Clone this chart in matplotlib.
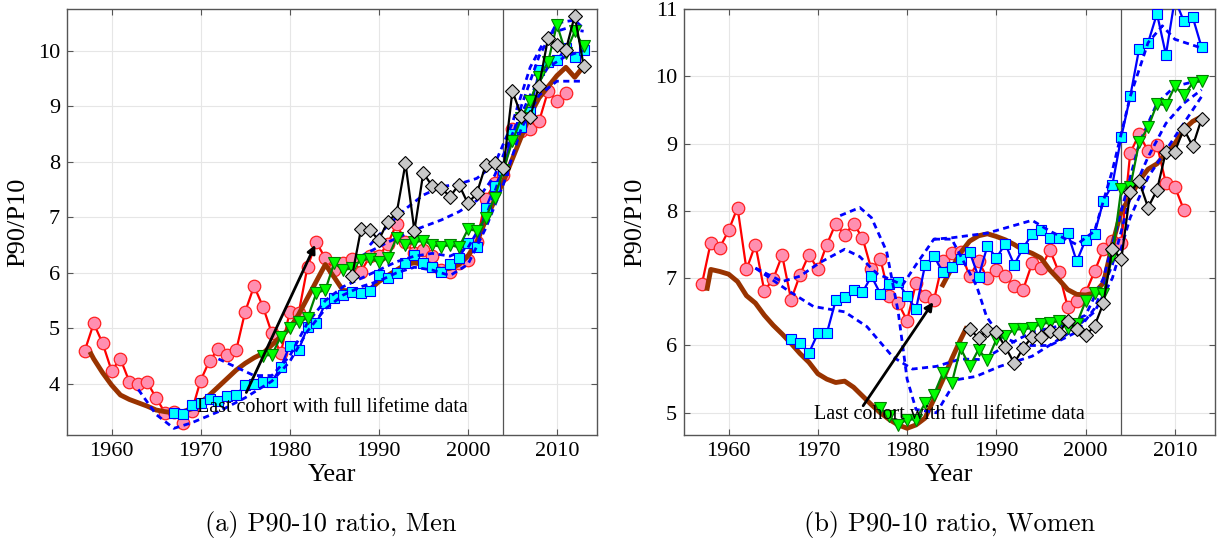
import numpy as np
import matplotlib.pyplot as plt

# ---------------- men ----------------
men_red_years = list(range(1957, 2012))
men_red = [4.60, 5.09, 4.73, 4.24, 4.45, 4.04, 4.00, 4.03, 3.75, 3.48,
           3.49, 3.30, 3.51, 4.06, 4.42, 4.63, 4.52, 4.61, 5.30, 5.76,
           5.39, 4.91, 4.55, 5.30, 5.27, 6.11, 6.55, 6.26, 6.05, 6.17,
           6.25, 6.02, 6.30, 6.30, 6.52, 6.88, 6.55, 6.36, 6.41, 6.30,
           6.05, 6.02, 6.18, 6.23, 6.55, 7.33, 7.61, 7.76, 8.59, 8.55,
           8.59, 8.73, 9.27, 9.10, 9.23]

men_brown_years = [1957.7] + list(range(1958, 2014))
men_brown = [4.54, 4.45, 4.20, 3.98, 3.80, 3.72, 3.66, 3.60, 3.53, 3.50,
             3.48, 3.50, 3.55, 3.66, 3.80, 3.95, 4.10, 4.25, 4.37, 4.47,
             4.55, 4.70, 4.85, 5.00, 5.25, 5.55, 5.85, 6.15, 5.92, 5.68,
             5.68, 5.68, 5.70, 5.84, 5.95, 6.05, 6.15, 6.18, 6.15, 6.10,
             6.06, 6.08, 6.15, 6.30, 6.55, 6.95, 7.30, 7.65, 8.05, 8.45,
             8.85, 9.15, 9.35, 9.55, 9.70, 9.52, 9.72]

men_blue_years = list(range(1967, 2014))
men_blue = [3.48, 3.45, 3.62, 3.65, 3.72, 3.70, 3.79, 3.80, 3.98, 4.00,
            4.03, 4.04, 4.30, 4.69, 4.61, 5.02, 5.09, 5.45, 5.54, 5.60,
            5.65, 5.63, 5.68, 5.96, 5.90, 6.00, 6.18, 6.32, 6.18, 6.11,
            6.02, 6.15, 6.27, 6.53, 6.46, 7.16, 7.56, 7.85, 8.50, 8.62,
            8.90, 9.65, 9.80, 9.83, 10.05, 9.88, 10.02]

men_green_years = list(range(1977, 2014))
men_green = [4.51, 4.52, 4.85, 5.00, 5.12, 5.18, 5.64, 5.69, 6.18, 6.05,
             6.08, 6.23, 6.25, 6.20, 6.26, 6.63, 6.50, 6.55, 6.58, 6.50,
             6.47, 6.50, 6.46, 6.78, 6.76, 6.99, 7.35, 7.85, 8.37, 8.78,
             9.10, 9.52, 9.79, 10.47, 9.96, 10.35, 10.08]

men_black_years = list(range(1987, 2014))
men_black = [5.94, 6.78, 6.77, 6.59, 6.92, 7.07, 7.97, 6.76, 7.80, 7.56,
             7.53, 7.37, 7.59, 7.25, 7.43, 7.94, 7.97, 7.88, 9.27, 8.83,
             8.81, 9.37, 10.22, 10.10, 10.01, 10.63, 9.73]

men_dashed = [
    ([1963, 1965, 1967, 1969, 1972, 1975, 1978, 1980, 1982, 1984, 1986,
      1988, 1990, 1992, 1994, 1996, 1998, 2000, 2002, 2004, 2006, 2008,
      2010, 2013],
     [3.9, 3.45, 3.2, 3.3, 3.5, 3.75, 4.05, 4.4, 4.95, 5.35, 5.6, 5.75,
      5.85, 6.0, 6.1, 6.05, 5.95, 6.15, 6.8, 7.6, 8.6, 9.2, 9.45, 9.45]),
    ([1972, 1974, 1976, 1978, 1980, 1982, 1984, 1986, 1988, 1990, 1992,
      1994, 1996, 1998, 2000, 2002, 2004, 2006, 2008, 2010, 2012, 2013],
     [4.45, 4.3, 4.15, 4.15, 4.5, 5.1, 5.5, 5.75, 5.9, 6.05, 6.2, 6.3,
      6.35, 6.3, 6.45, 7.0, 7.9, 9.0, 9.9, 10.5, 10.55, 10.4]),
    ([1989, 1991, 1993, 1995, 1997, 1999, 2001, 2003, 2005, 2007, 2009,
      2011, 2013],
     [6.5, 6.85, 7.15, 7.4, 7.55, 7.6, 7.7, 7.95, 8.7, 9.7, 10.3, 10.4,
      10.35]),
    ([1988, 1991, 1994, 1997, 1999, 2001, 2003, 2005, 2007, 2009, 2011,
      2013],
     [6.3, 6.55, 6.77, 6.95, 7.1, 7.3, 7.75, 8.5, 9.2, 9.7, 9.9, 10.0]),
]

# ---------------- women ----------------
wom_red_years = list(range(1957, 2012))
wom_red = [6.91, 7.53, 7.45, 7.71, 8.05, 7.13, 7.50, 6.81, 6.99, 7.34,
           6.68, 7.05, 7.35, 7.13, 7.50, 7.81, 7.64, 7.81, 7.60, 7.13,
           7.29, 6.73, 6.63, 6.37, 6.93, 6.73, 6.67, 7.25, 7.37, 7.39,
           7.03, 7.25, 7.00, 7.12, 7.03, 6.89, 6.83, 7.22, 7.15, 7.42,
           7.09, 6.57, 6.66, 6.78, 7.10, 7.43, 7.55, 7.53, 8.86, 9.14,
           8.89, 8.98, 8.41, 8.36, 8.02]

# the smoothed women's series is drawn as two pieces
wom_brown_a_years = [1957.6] + list(range(1958, 1987)) + [1986.6]
wom_brown_a = [6.85, 7.13, 7.10, 7.06, 6.95, 6.74, 6.63, 6.45, 6.30, 6.17,
               6.03, 5.88, 5.75, 5.58, 5.50, 5.45, 5.47, 5.38, 5.25, 5.12,
               5.00, 4.90, 4.82, 4.77, 4.82, 4.92, 5.20, 5.49, 5.80, 6.09,
               6.25]
wom_brown_b_years = list(range(1984, 2014))
wom_brown_b = [6.90, 7.15, 7.38, 7.55, 7.63, 7.66, 7.62, 7.57, 7.50, 7.42,
               7.37, 7.30, 7.12, 6.98, 6.83, 6.76, 6.75, 6.78, 6.93, 7.50,
               8.00, 8.20, 8.45, 8.62, 8.70, 8.85, 9.00, 9.21, 9.33, 9.40]

wom_blue_years = list(range(1967, 2014))
wom_blue = [6.10, 6.04, 5.89, 6.18, 6.18, 6.67, 6.72, 6.82, 6.79, 7.03,
            6.77, 6.92, 6.94, 6.73, 6.54, 7.19, 7.33, 7.09, 7.16, 7.28,
            7.39, 7.02, 7.48, 7.30, 7.51, 7.20, 7.45, 7.65, 7.71, 7.59,
            7.59, 7.67, 7.25, 7.57, 7.66, 8.15, 8.39, 9.10, 9.70, 10.41,
            10.50, 10.93, 10.32, 11.15, 10.82, 10.88, 10.43]

wom_green_years = list(range(1977, 2014))
wom_green = [5.07, 4.95, 4.82, 4.90, 4.90, 5.14, 5.27, 5.59, 5.44, 5.96,
             5.69, 5.94, 5.78, 6.09, 6.14, 6.24, 6.24, 6.26, 6.32, 6.34,
             6.36, 6.26, 6.32, 6.66, 6.78, 6.76, 7.33, 8.33, 8.35, 9.02,
             9.24, 9.59, 9.57, 9.85, 9.72, 9.90, 9.93]

wom_black_years = list(range(1987, 2014))
wom_black = [6.25, 6.11, 6.23, 6.20, 5.98, 5.74, 5.96, 6.13, 6.13, 6.21,
             6.19, 6.37, 6.24, 6.15, 6.29, 6.63, 7.44, 7.28, 8.28, 8.44,
             8.05, 8.31, 8.88, 8.88, 9.22, 8.96, 9.37]

wom_dashed = [
    ([1963, 1966, 1968, 1970.2, 1973, 1974.7, 1976.6, 1979.5, 1981, 1983,
      1985, 1989, 1994, 1996, 1999, 2001, 2003, 2005, 2007, 2008.6, 2010,
      2013],
     [7.15, 6.95, 7.03, 7.23, 7.43, 7.32, 7.07, 6.9, 7.2, 7.58, 7.6,
      7.67, 7.86, 7.7, 7.5, 7.7, 8.6, 9.7, 10.5, 10.75, 10.55, 10.42]),
    ([1963, 1966.5, 1969.5, 1973, 1975.5, 1978.4, 1980.6, 1983.3, 1986,
      1988.5, 1991, 1994, 1997.4, 2000, 2002, 2004, 2006, 2008, 2010,
      2013],
     [7.15, 6.83, 6.58, 6.5, 6.28, 5.83, 5.65, 5.69, 5.8, 5.79, 5.99,
      6.2, 6.3, 6.45, 7.0, 8.0, 9.0, 9.6, 9.85, 9.95]),
    ([1972.5, 1974.7, 1976, 1977.7, 1979, 1980, 1981, 1983.3, 1985.5,
      1987.7, 1990.4, 1994, 1998.2, 2001, 2003, 2005, 2007, 2009, 2011,
      2013],
     [7.93, 8.05, 7.9, 7.4, 6.5, 5.5, 5.05, 5.0, 5.49, 5.54, 5.69, 5.84,
      6.19, 6.5, 7.0, 7.9, 8.5, 8.9, 9.3, 9.7]),
    ([1983, 1985, 1987.8, 1988.9, 1990.4, 1993, 1996, 1999, 2001, 2003,
      2005, 2007, 2009, 2011, 2013],
     [7.58, 7.58, 6.88, 6.43, 6.14, 6.0, 6.0, 6.2, 6.55, 7.2, 8.2, 8.8,
      9.3, 9.6, 9.8]),
]

annot_text = 'Last cohort with full lifetime data'

plt.rcParams['font.family'] = ['Liberation Serif', 'DejaVu Serif']

fig = plt.figure(figsize=(12.18, 5.44), dpi=100)
ax_m = fig.add_axes([67 / 1218, 1 - 435 / 544, 530 / 1218, 426 / 544])
ax_w = fig.add_axes([684 / 1218, 1 - 435 / 544, 531 / 1218, 426 / 544])


def draw_panel(ax, red, browns, blue, green, black, dashed):
    ax.plot(*red, '-o', color='#ff0000', lw=1.6, ms=9, mfc='#ff8fb0',
            mec='#ff2020', mew=0.9, zorder=3)
    for xs, ys in browns:
        ax.plot(xs, ys, '-', color='#993300', lw=3.5, zorder=4)
    ax.plot(*blue, '-s', color='#0000ff', lw=1.6, ms=6.5, mfc='#00ffff',
            mec='#0000ff', mew=0.8, zorder=5)
    for xs, ys in dashed:
        ax.plot(xs, ys, '--', color='#0000ff', lw=2.0, dashes=(2.2, 1.6),
                zorder=6)
    ax.plot(*green, '-v', color='#008000', lw=1.6, ms=8.5, mfc='#00ff00',
            mec='#008000', mew=0.8, zorder=7)
    ax.plot(*black, '-D', color='#000000', lw=1.6, ms=7, mfc='#c8c8c8',
            mec='#000000', mew=0.8, zorder=8)
    ax.axvline(2004, color='#555555', lw=0.9, zorder=2)
    ax.set_xlim(1955, 2014.5)
    ax.set_xticks([1960, 1970, 1980, 1990, 2000, 2010])
    ax.grid(True, color='#e6e6e6', lw=0.8)
    ax.set_axisbelow(True)
    ax.tick_params(direction='in', top=True, right=True, labelsize=16,
                   length=4, color='#555555', pad=5)
    for s in ax.spines.values():
        s.set_color('#555555')
        s.set_linewidth(1.0)
    ax.set_xlabel('Year', fontsize=19, labelpad=2)
    ax.set_ylabel('P90/P10', fontsize=19, labelpad=6)


draw_panel(ax_m, (men_red_years, men_red), [(men_brown_years, men_brown)],
           (men_blue_years, men_blue), (men_green_years, men_green),
           (men_black_years, men_black), men_dashed)
ax_m.set_ylim(3.08, 10.75)
ax_m.set_yticks([4, 5, 6, 7, 8, 9, 10])
ax_m.annotate('', xy=(1983, 6.55), xytext=(1975, 3.8),
              arrowprops=dict(arrowstyle='-|>', color='black', lw=2,
                              mutation_scale=12), zorder=9)
ax_m.text(1969.6, 3.58, annot_text, fontsize=14.5, va='center', ha='left',
          zorder=10)

draw_panel(ax_w, (wom_red_years, wom_red),
           [(wom_brown_a_years, wom_brown_a), (wom_brown_b_years, wom_brown_b)],
           (wom_blue_years, wom_blue), (wom_green_years, wom_green),
           (wom_black_years, wom_black), wom_dashed)
ax_w.set_ylim(4.67, 11)
ax_w.set_yticks([5, 6, 7, 8, 9, 10, 11])
ax_w.annotate('', xy=(1983.1, 6.68), xytext=(1974.9, 5.07),
              arrowprops=dict(arrowstyle='-|>', color='black', lw=2,
                              mutation_scale=12), zorder=9)
ax_w.text(1969.6, 4.97, annot_text, fontsize=14.5, va='center', ha='left',
          zorder=10)

fig.text(331 / 1218, 1 - 524 / 544, '(a) P90-10 ratio, Men', fontsize=19,
         ha='center', va='center', family='cmr10')
fig.text(950 / 1218, 1 - 524 / 544, '(b) P90-10 ratio, Women', fontsize=19,
         ha='center', va='center', family='cmr10')

fig.savefig('out.png', dpi=100)
